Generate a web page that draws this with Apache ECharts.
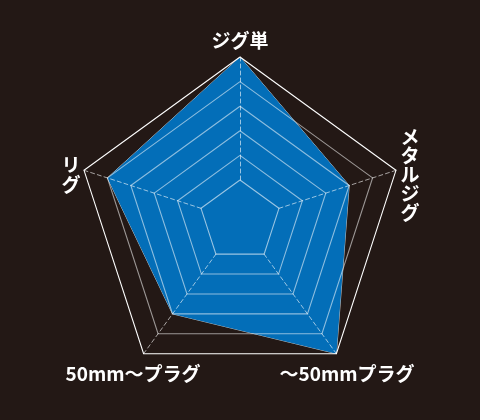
<!DOCTYPE html>
<html>
<head>
<meta charset="utf-8">
<script src="https://cdn.jsdelivr.net/npm/echarts@6/dist/echarts.min.js"></script>
<style>
html,body{margin:0;padding:0;background:#231815;}
#radar{width:480px;height:420px;}
</style>
</head>
<body>
<div id="radar"></div>
<script>
// 項目（上から反時計回り）
var categories = ['ジグ単', 'リグ', '50mm〜プラグ', '〜50mmプラグ', 'メタルジグ'];
var values = [5, 4, 3, 5, 3];
var maxValue = 5;

// 縦書きラベルは1文字ずつ改行
function vertical(s) {
    return s.split('').join('\n');
}

var labelFont = 'bold 19px "Noto Sans CJK JP", sans-serif';

var radarChart = echarts.init(document.getElementById('radar'));
radarChart.setOption({
    backgroundColor: '#231815',
    radar: {
        z: 3,
        center: [240, 221],
        radius: [41, 164],
        startAngle: 90,
        splitNumber: 5,
        shape: 'polygon',
        indicator: categories.map(function (c) {
            return { name: c, min: 0, max: maxValue };
        }),
        axisName: { show: false },
        splitArea: { show: false },
        splitLine: {
            lineStyle: {
                width: 1.1,
                color: [
                    'rgba(255,255,255,0.6)',
                    'rgba(255,255,255,0.55)',
                    'rgba(255,255,255,0.55)',
                    'rgba(255,255,255,0.55)',
                    'rgba(255,255,255,0.55)',
                    '#ffffff'
                ]
            }
        },
        axisLine: {
            lineStyle: {
                color: 'rgba(255,255,255,0.6)',
                type: [4, 3],
                width: 1
            }
        }
    },
    series: [{
        type: 'radar',
        z: 2,
        symbol: 'none',
        lineStyle: { color: 'rgba(255,255,255,0.75)', width: 1 },
        areaStyle: { color: '#036eb8', opacity: 1 },
        data: [{ value: values, name: 'タックル' }]
    }],
    graphic: [
        { type: 'text', x: 240, y: 41, style: { text: categories[0], font: labelFont, fill: '#fff', align: 'center', verticalAlign: 'middle' } },
        { type: 'text', x: 71, y: 175, style: { text: vertical(categories[1]), font: labelFont, lineHeight: 20, fill: '#fff', align: 'center', verticalAlign: 'middle' } },
        { type: 'text', x: 133, y: 374, style: { text: categories[2], font: labelFont, fill: '#fff', align: 'center', verticalAlign: 'middle' } },
        { type: 'text', x: 347, y: 374, style: { text: categories[3], font: labelFont, fill: '#fff', align: 'center', verticalAlign: 'middle' } },
        { type: 'text', x: 410, y: 175, style: { text: vertical(categories[4]), font: labelFont, lineHeight: 19, fill: '#fff', align: 'center', verticalAlign: 'middle' } }
    ]
});
</script>
</body>
</html>
